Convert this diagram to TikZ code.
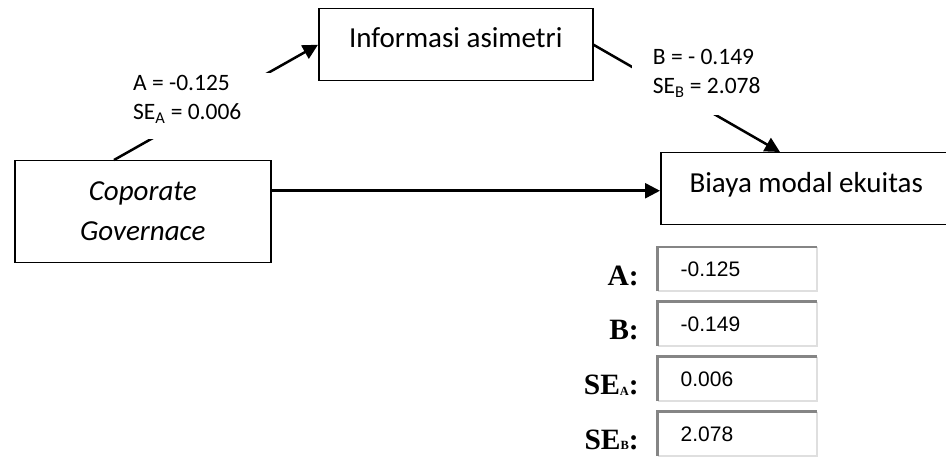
\documentclass[tikz,border=0pt]{standalone}
\usepackage{fontspec}
\setmainfont{Carlito}
\newfontfamily\tnr{Liberation Serif}
\newfontfamily\arialf{Liberation Sans}
\usetikzlibrary{arrows.meta}
\definecolor{bdark}{HTML}{858585}
\definecolor{blight}{HTML}{DFDFDF}
\begin{document}
\begin{tikzpicture}[x=1pt,y=-1pt,
  box/.style={draw=black, line width=1.5pt, inner xsep=0pt, inner ysep=0pt,
    anchor=north west, font=\fontsize{29}{35}\selectfont},
  conn/.style={line width=2.5pt, -{Triangle[length=15pt,width=15pt]}},
  plain/.style={line width=2.5pt},
  lbl/.style={fill=white, inner xsep=0pt, inner ysep=0pt, anchor=base west,
    font=\fontsize{23.5}{28.8}\selectfont},
  valbox/.style={fill=white, inner sep=0pt, anchor=north west,
    text height=29.5pt, text depth=14.5pt, font=\arialf\fontsize{21}{24}\selectfont},
  tlab/.style={inner sep=0pt, anchor=base east, font=\tnr\bfseries\fontsize{29.5}{30}\selectfont},
  dk/.style={draw=bdark, line width=2.5pt},
  lt/.style={draw=blight, line width=2pt}
]
\useasboundingbox (0,0) rectangle (946,457);

% boxes
\node[box, minimum width=274pt, text height=38.5pt, text depth=33.5pt] (ia) at (318,8) {Informasi asimetri};
\node[box, minimum width=291pt, text height=39.5pt, text depth=32.5pt] (bm) at (660,152) {Biaya modal ekuitas};
\node[box, minimum width=256pt, text height=39.3pt, text depth=62.4pt,
  font=\itshape\fontsize{29}{40.7}\selectfont] (cg) at (14,160)
  {\begin{tabular}[t]{@{}c@{}}Coporate\\Governace\end{tabular}};

% connectors
\draw[conn] ([xshift=100pt]cg.north west) -- (ia.west);
\draw[conn] (ia.east) -- ([xshift=120pt]bm.north west);
\draw[conn] ([yshift=-2pt]bm.west -| cg.east) -- ([yshift=-2pt]bm.west);

% path labels
\node[lbl, text height=17.5pt, text depth=48.5pt] (la) at (128,91)
  {\makebox[152pt][l]{\hspace{5pt}\begin{tabular}[t]{@{}l@{}}A = -0.125\\SE\textsubscript{A} = 0.006\end{tabular}}};
\node[lbl, text height=18pt, text depth=50pt] (lb) at (631.7,65)
  {\makebox[148pt][l]{\hspace{21pt}\begin{tabular}[t]{@{}l@{}}B = - 0.149\\SE\textsubscript{B} = 2.078\end{tabular}}};

% result table
\foreach \i/\t/\v in {1/247/-0.125, 2/301.7/-0.149, 3/356.7/0.006, 4/411.7/2.078} {
  \node[valbox] (v\i) at (657.5,\t) {\makebox[159pt][l]{\hspace{23pt}\v}};
  \draw[lt] (v\i.north east) -- (v\i.south east) -- (v\i.south west);
  \draw[dk] (v\i.south west) -- (v\i.north west) -- (v\i.north east);
}
\node[tlab] (t1) at (639,286) {A:};
\node[tlab] (t2) at (639,340) {B:};
\node[tlab] (t3) at (639,395) {SE\raisebox{-0.5pt}{\fontsize{12.5}{13}\selectfont A}:};
\node[tlab] (t4) at (639,449.3) {SE\raisebox{-0.5pt}{\fontsize{12.5}{13}\selectfont B}:};
\end{tikzpicture}
\end{document}
